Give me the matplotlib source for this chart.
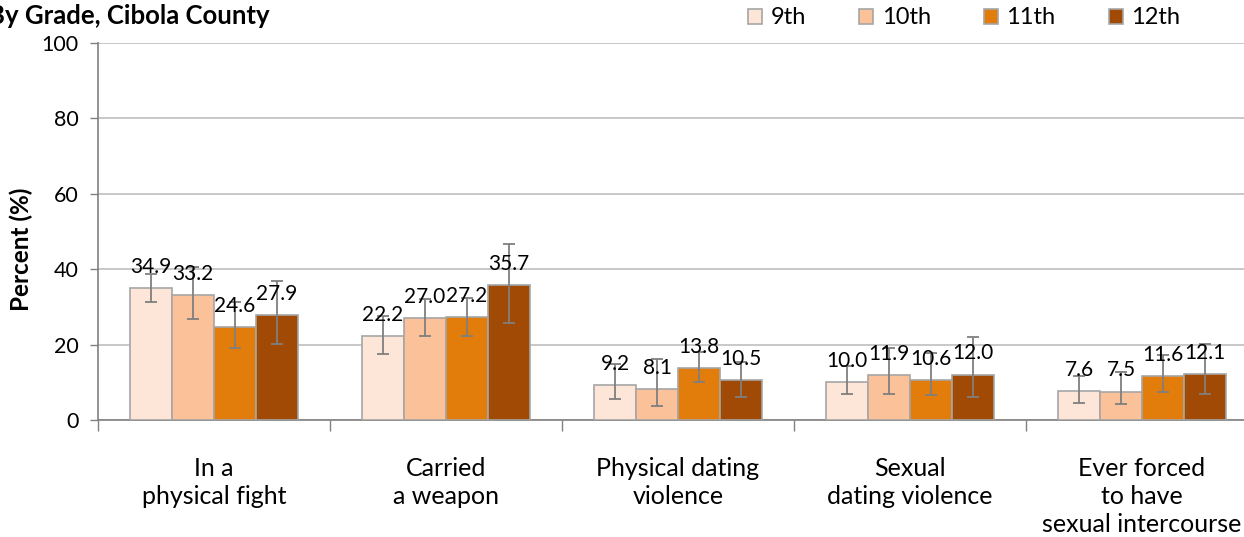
import matplotlib
matplotlib.use("Agg")
import matplotlib.pyplot as plt
import numpy as np

plt.rcParams['font.family'] = ['Lato', 'DejaVu Sans']

categories = ["In a\nphysical fight", "Carried\na weapon", "Physical dating\nviolence",
              "Sexual\ndating violence", "Ever forced\nto have\nsexual intercourse"]
grades = ["9th", "10th", "11th", "12th"]
values = {
    "9th":  [34.9, 22.2, 9.2, 10.0, 7.6],
    "10th": [33.2, 27.0, 8.1, 11.9, 7.5],
    "11th": [24.6, 27.2, 13.8, 10.6, 11.6],
    "12th": [27.9, 35.7, 10.5, 12.0, 12.1],
}
ci_low = {
    "9th":  [31.2, 17.5, 5.5, 6.8, 4.6],
    "10th": [26.7, 22.2, 3.7, 7.0, 4.2],
    "11th": [19.0, 22.2, 10.2, 6.5, 7.4],
    "12th": [20.2, 25.8, 6.2, 6.2, 6.8],
}
ci_high = {
    "9th":  [38.7, 27.6, 14.9, 14.3, 11.8],
    "10th": [40.5, 32.1, 16.3, 19.2, 12.6],
    "11th": [31.4, 32.3, 18.1, 17.7, 17.2],
    "12th": [36.9, 46.7, 15.5, 22.0, 20.2],
}
colors = ["#FDE6D8", "#FBC299", "#E27C0B", "#A04A06"]
title = "By Grade, Cibola County"
ylabel = "Percent (%)"

W, H = 1244, 537
fig = plt.figure(figsize=(W / 100, H / 100), dpi=100)
ax = fig.add_axes([98 / W, (H - 420) / H, 1160 / W, 377 / H])

n = len(categories)
x = np.arange(n)
bw = 0.181
for i, g in enumerate(grades):
    pos = x + (i - 1.5) * bw
    v = np.array(values[g])
    lo = v - np.array(ci_low[g])
    hi = np.array(ci_high[g]) - v
    ax.bar(pos, v, bw, color=colors[i], edgecolor="#A6A6A6", linewidth=1.2, label=g, zorder=3)
    ax.errorbar(pos, v, yerr=[lo, hi], fmt="none", ecolor="#7F7F7F", elinewidth=1.3,
                capsize=4, capthick=1.3, zorder=4)
    for p, val in zip(pos, v):
        ax.annotate(f"{val:.1f}", (p, val), xytext=(0, 11), textcoords="offset points",
                    ha="center", va="baseline", fontsize=15, color="black", zorder=5)

ax.set_xlim(-0.5, n - 0.5)
ax.set_ylim(0, 100)
ax.set_yticks([0, 20, 40, 60, 80, 100])
ax.tick_params(axis="y", labelsize=15.5, length=6, color="#808080", width=1, pad=8)
ax.yaxis.grid(True, color="#BFBFBF", linewidth=1.2, zorder=0)
ax.set_axisbelow(True)

ax.set_xticks(np.arange(n + 1) - 0.5)
ax.set_xticklabels([])
ax.tick_params(axis="x", length=8, color="#808080", width=1)
for xi, c in zip(x, categories):
    ax.annotate(c, (xi, 0), xytext=(0, -37), textcoords="offset pixels",
                ha="center", va="top", fontsize=18, linespacing=1.27,
                annotation_clip=False)

for s in ["top", "right"]:
    ax.spines[s].set_visible(False)
ax.spines["left"].set_color("#808080")
ax.spines["bottom"].set_color("#808080")
ax.spines["left"].set_linewidth(1.2)
ax.spines["bottom"].set_linewidth(1.2)

fig.text(21 / W, (H - 249) / H, ylabel, rotation=90, ha="center", va="center",
         fontsize=17.5, fontweight="bold")
fig.text(-12 / W, (H - 24) / H, title, ha="left", va="baseline", fontsize=18.5, fontweight="bold")

leg = fig.legend(loc="center right", bbox_to_anchor=(1180 / W, 1 - 18 / H), ncol=4, frameon=False,
                 fontsize=17, handlelength=0.6, handleheight=0.6, handletextpad=0.35,
                 columnspacing=2.25, borderaxespad=0, borderpad=0)

fig.savefig("out.png", dpi=100)
